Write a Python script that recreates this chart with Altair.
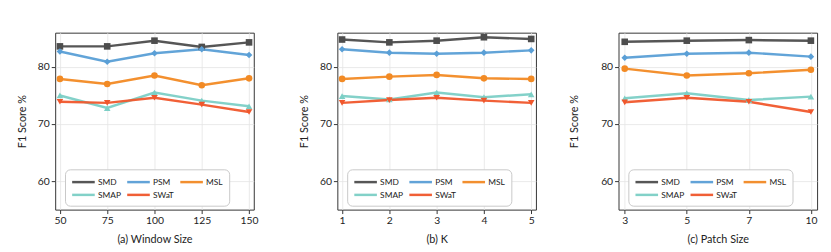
import altair as alt
import pandas as pd

series = ["SMD", "PSM", "MSL", "SMAP", "SWaT"]
colors = ["#4d4d4d", "#5a9fd6", "#f28a24", "#7ccfc6", "#f0572c"]
shapes = ["square", "diamond", "circle", "triangle-up", "triangle-down"]

# (a) Window Size
window_sizes = [50, 75, 100, 125, 150]
ws_smd = [83.6, 83.6, 84.6, 83.5, 84.3]
ws_psm = [82.7, 80.9, 82.4, 83.1, 82.1]
ws_msl = [77.9, 77.0, 78.5, 76.8, 78.0]
ws_smap = [75.0, 72.8, 75.5, 74.1, 73.1]
ws_swat = [73.9, 73.7, 74.6, 73.4, 72.1]

# (b) K
k_values = [1, 2, 3, 4, 5]
k_smd = [84.8, 84.3, 84.6, 85.2, 84.9]
k_psm = [83.1, 82.5, 82.3, 82.5, 82.9]
k_msl = [77.9, 78.3, 78.6, 78.0, 77.9]
k_smap = [74.9, 74.3, 75.5, 74.7, 75.2]
k_swat = [73.7, 74.2, 74.6, 74.1, 73.7]

# (c) Patch Size
patch_sizes = [3, 5, 7, 10]
ps_smd = [84.4, 84.6, 84.7, 84.6]
ps_psm = [81.6, 82.3, 82.5, 81.8]
ps_msl = [79.7, 78.5, 78.9, 79.5]
ps_smap = [74.5, 75.4, 74.2, 74.8]
ps_swat = [73.8, 74.6, 73.9, 72.1]

FONT = "Lato"


def make_df(xs, vals):
    rows = []
    for name, v in zip(series, vals):
        for x, y in zip(xs, v):
            rows.append({"x": x, "f1": y, "series": name, "marker": name})
    return pd.DataFrame(rows)


def panel(df, xtitle, title_pad):
    base = alt.Chart(df).encode(
        x=alt.X(
            "x:O",
            scale=alt.Scale(type="point", padding=0.1),
            axis=alt.Axis(title=xtitle, labelAngle=0, grid=True, titlePadding=8),
        ),
        y=alt.Y(
            "f1:Q",
            scale=alt.Scale(domain=[55, 86], nice=False, zero=False),
            axis=alt.Axis(values=[60, 70, 80], title="F1 Score %", titlePadding=title_pad),
        ),
    )
    lines = base.mark_line(strokeWidth=2.5, opacity=0.95).encode(
        color=alt.Color(
            "series:N",
            scale=alt.Scale(domain=series, range=colors),
            legend=alt.Legend(
                title=None,
                orient="none",
                legendX=10,
                legendY=139,
                columns=3,
                direction="horizontal",
                symbolType="M-1,0H3",
                symbolSize=132,
                symbolStrokeWidth=2.5,
                labelFontSize=8.5,
                labelFont=FONT,
                labelColor="#222222",
                labelOffset=13.5,
                columnPadding=1,
                rowPadding=1,
                padding=6,
                cornerRadius=5,
                strokeColor="#c8c8c8",
                fillColor="white",
            ),
        )
    )
    pts = base.mark_point(filled=True, size=45, opacity=1).encode(
        color=alt.Color("marker:N", scale=alt.Scale(domain=series, range=colors), legend=None),
        shape=alt.Shape("marker:N", scale=alt.Scale(domain=series, range=shapes), legend=None),
    )
    return (
        alt.layer(lines, pts)
        .resolve_scale(color="independent", shape="independent")
        .resolve_legend(color="independent", shape="independent")
        .properties(width=202, height=180)
    )


pa = panel(make_df(window_sizes, [ws_smd, ws_psm, ws_msl, ws_smap, ws_swat]), "(a) Window Size", 10)
pb = panel(make_df(k_values, [k_smd, k_psm, k_msl, k_smap, k_swat]), "(b) K", 10)
pc = panel(make_df(patch_sizes, [ps_smd, ps_psm, ps_msl, ps_smap, ps_swat]), "(c) Patch Size", 22)

left = (
    alt.hconcat(pa, pb, spacing=40)
    .resolve_legend(color="independent", shape="independent")
    .resolve_scale(x="independent", color="independent", shape="independent")
)

chart = (
    alt.hconcat(left, pc, spacing=31)
    .resolve_legend(color="independent", shape="independent")
    .resolve_scale(x="independent", color="independent", shape="independent")
    .properties(padding={"left": 8, "top": 22, "right": 5, "bottom": 5})
    .configure(background="white")
    .configure_view(stroke="#333333", strokeWidth=1)
    .configure_axis(
        labelFont=FONT,
        titleFont=FONT,
        labelFontSize=10.5,
        titleFontSize=11,
        titleFontWeight="normal",
        labelColor="#222222",
        titleColor="#222222",
        domain=False,
        tickColor="#333333",
        tickSize=4,
        gridColor="#e4e4e4",
        gridWidth=0.8,
    )
)

chart.save("out.html", embed_options={"renderer": "svg", "actions": False})
